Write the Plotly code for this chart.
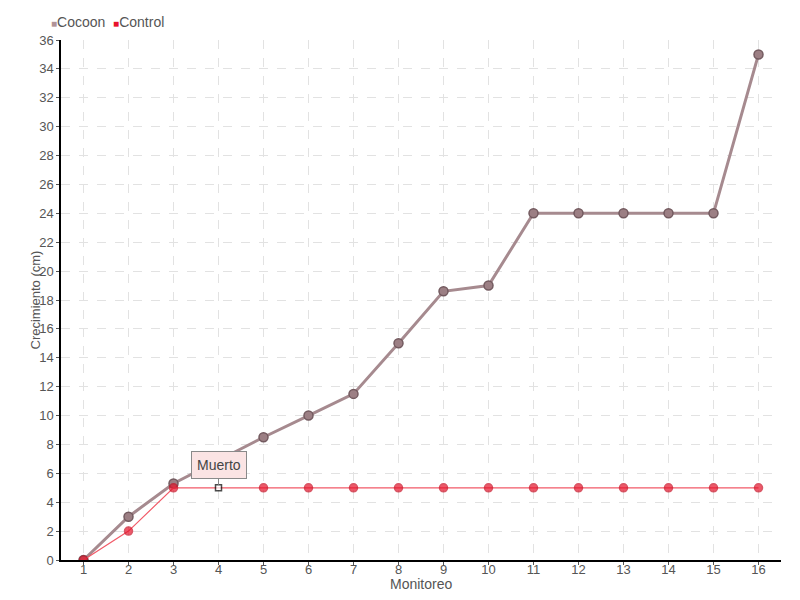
import plotly.graph_objects as go

monitoreo = list(range(1, 17))
cocoon = [0, 3, 5.3, 6.9, 8.5, 10, 11.5, 15, 18.6, 19, 24, 24, 24, 24, 24, 35]
control = [0, 2, 5, 5, 5, 5, 5, 5, 5, 5, 5, 5, 5, 5, 5, 5]
y_ticks = list(range(0, 37, 2))
series_names = ["Cocoon", "Control"]

font_family = "Liberation Sans, Arial, sans-serif"
cocoon_color = "#b09398"
control_color = "#e8132b"

fig = go.Figure()
fig.add_trace(go.Scatter(
    x=monitoreo, y=cocoon, name=series_names[0], mode="lines+markers", showlegend=False,
    line=dict(color="#a68a8f", width=3),
    marker=dict(size=9, color="#9c7f84", line=dict(color="#735a5f", width=1.5)),
))
ctrl_sym = ["circle"] * len(control)
ctrl_sym[3] = "square"
ctrl_col = [control_color] * len(control)
ctrl_col[3] = "white"
ctrl_size = [8] * len(control)
ctrl_size[3] = 6
ctrl_lc = ["#c80f24"] * len(control)
ctrl_lc[3] = "black"
fig.add_trace(go.Scatter(
    x=monitoreo, y=control, name=series_names[1], mode="lines+markers", showlegend=False,
    line=dict(color="#f25a68", width=1.2),
    marker=dict(size=ctrl_size, color=ctrl_col, symbol=ctrl_sym,
                line=dict(color=ctrl_lc, width=1.5)),
))

# compact legend
legend_text = (f'<span style="color:{cocoon_color};font-size:10px">■</span>{series_names[0]}'
               f'  <span style="color:{control_color};font-size:10px">■</span>{series_names[1]}')
fig.add_annotation(
    xref="paper", yref="paper", x=-0.017, y=1.02, yshift=-2, xanchor="left", yanchor="bottom",
    text=legend_text, showarrow=False, font=dict(size=14, color="#555555", family=font_family),
)

fig.add_annotation(
    x=4, y=5, text="Muerto", showarrow=True, arrowhead=0, arrowwidth=1,
    arrowcolor="#888888", ax=0, ay=-9, yanchor="bottom", standoff=3,
    bgcolor="#fbe4e4", bordercolor="#8a8a8a", borderwidth=1, borderpad=5,
    font=dict(size=14, color="#444444", family=font_family),
)

# axis titles placed close to the tick labels
fig.add_annotation(
    xref="paper", yref="paper", x=0, y=0.5, xshift=-36, textangle=-90,
    text="Crecimiento (cm)", showarrow=False,
    font=dict(size=13, color="#555555", family=font_family),
)
fig.add_annotation(
    xref="paper", yref="paper", x=0.5, y=0, yshift=-24, yanchor="middle",
    text="Monitoreo", showarrow=False,
    font=dict(size=14, color="#555555", family=font_family),
)

fig.update_layout(
    width=800, height=600,
    margin=dict(l=53, r=27, t=32, b=48, autoexpand=False),
    paper_bgcolor="white", plot_bgcolor="white",
    font=dict(family=font_family, color="#555555", size=13),
    showlegend=False,
    xaxis=dict(
        range=[0.5, 16.5], tickmode="array", tickvals=monitoreo,
        ticktext=[str(v) for v in monitoreo], automargin=False,
        showline=True, linecolor="black", linewidth=1.5,
        ticks="outside", ticklen=3, tickcolor="#555555",
        ticklabelstandoff=-6,
        showgrid=True, gridcolor="#e2e2e2", griddash="dash",
        zeroline=False,
        tickfont=dict(size=13, color="#555555"),
    ),
    yaxis=dict(
        range=[0, 36], tickmode="array", tickvals=y_ticks, automargin=False,
        showline=True, linecolor="black", linewidth=1.5,
        ticks="outside", ticklen=3, tickcolor="#555555",
        showgrid=True, gridcolor="#e2e2e2", griddash="dash",
        zeroline=False,
        tickfont=dict(size=13, color="#555555"),
    ),
)

fig.write_html("out.html")
